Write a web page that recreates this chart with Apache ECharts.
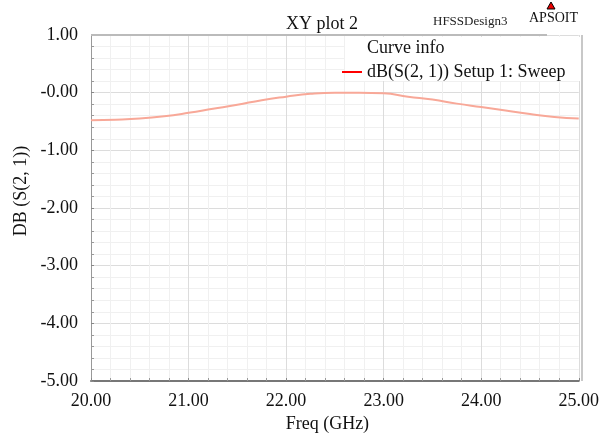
<!DOCTYPE html>
<html>
<head>
<meta charset="utf-8">
<script src="https://cdn.jsdelivr.net/npm/echarts@6/dist/echarts.min.js"></script>
<style>
  html, body { margin: 0; padding: 0; background: #fff; }
  #chart { width: 602px; height: 438px; }
</style>
</head>
<body>
<div id="chart"></div>
<script>
// 频率 (GHz) 和 dB(S(2,1))
const freq = [20.00, 20.25, 20.50, 20.75, 21.00, 21.25, 21.50, 21.75, 22.00, 22.25, 22.50,
              22.75, 23.00, 23.25, 23.50, 23.75, 24.00, 24.25, 24.50, 24.75, 25.00];
const s21 = [-0.48, -0.47, -0.45, -0.41, -0.35, -0.28, -0.21, -0.13, -0.07, -0.02, 0.00,
             0.00, -0.01, -0.07, -0.12, -0.19, -0.25, -0.31, -0.37, -0.42, -0.45];
const seriesName = 'dB(S(2, 1)) Setup 1: Sweep';

const serif = '"Liberation Serif", "DejaVu Serif", serif';

let chart = echarts.init(document.getElementById('chart'));
let option = {
  backgroundColor: '#fff',
  animation: false,
  title: {
    text: 'XY plot 2',
    left: 281,
    top: 10,
    textStyle: { fontFamily: serif, fontSize: 18, fontWeight: 'normal', color: '#111' }
  },
  graphic: [
    { type: 'text', left: 433, top: 15, style: { text: 'HFSSDesign3', font: '13px ' + serif, fill: '#222' } },
    { type: 'text', left: 529, top: 11, style: { text: 'APSOIT', font: '14px ' + serif, fill: '#111' } },
    { type: 'polygon', shape: { points: [[551, 2], [547, 9], [555, 9]] },
      style: { fill: '#e00', stroke: '#000', lineWidth: 1 } },
    // 纵轴名称
    { type: 'text', x: 21, y: 191, rotation: Math.PI / 2, z: 5,
      style: { text: 'DB (S(2, 1))', font: '18px ' + serif, fill: '#111', align: 'center', verticalAlign: 'middle' } },
    // 图框：右边、上边
    { type: 'rect', shape: { x: 581, y: 35, width: 2, height: 346 }, style: { fill: '#c8c8c8' }, z: 3 },
    { type: 'line', shape: { x1: 91, y1: 35, x2: 547, y2: 35 }, style: { stroke: '#bbb', lineWidth: 2 }, z: 3 },
    // 图例底色
    { type: 'rect', shape: { x: 345, y: 37, width: 235, height: 44 }, style: { fill: '#fff' }, z: 4 },
    { type: 'text', left: 367, top: 39, z: 5,
      style: { text: 'Curve info', font: '18px ' + serif, fill: '#111' } }
  ],
  legend: {
    data: [{ name: seriesName, itemStyle: { color: '#ff0000' }, lineStyle: { color: '#ff0000', width: 2 } }],
    left: 342,
    top: 63,
    z: 6,
    icon: 'rect',
    itemWidth: 20,
    itemHeight: 2,
    itemGap: 4,
    padding: [0, 4, 0, 0],
    textStyle: { fontFamily: serif, fontSize: 18, color: '#111', padding: [0, 0, 0, 0] }
  },
  grid: { left: 91, right: 19, top: 35, bottom: 57 },
  xAxis: {
    type: 'value',
    min: 20,
    max: 25,
    interval: 1,
    name: 'Freq (GHz)',
    nameLocation: 'middle',
    nameGap: 30,
    nameTextStyle: { fontFamily: serif, fontSize: 18, color: '#111', padding: [0, 15, 0, 0] },
    axisLine: { onZero: false, lineStyle: { color: '#777', width: 2 } },
    axisTick: { show: true, inside: true, length: 3, lineStyle: { color: '#888' } },
    minorTick: { show: true, splitNumber: 5, length: 3, lineStyle: { color: '#999' } },
    axisLabel: {
      fontFamily: serif, fontSize: 18, color: '#111', margin: 11,
      formatter: v => v.toFixed(2)
    },
    splitLine: { show: true, lineStyle: { color: '#dcdcdc', width: 1 } },
    minorSplitLine: { show: true, lineStyle: { color: '#f0f0f0', width: 1 } }
  },
  yAxis: {
    type: 'value',
    min: -5,
    max: 1,
    interval: 1,
    axisLine: { show: true, onZero: false, lineStyle: { color: '#999', width: 1 } },
    axisTick: { show: true, inside: true, length: 3, lineStyle: { color: '#888' } },
    minorTick: { show: true, splitNumber: 5, length: 3, lineStyle: { color: '#999' } },
    axisLabel: {
      fontFamily: serif, fontSize: 18, color: '#111', margin: 13,
      formatter: v => (v === 0 ? '-0.00' : v.toFixed(2))
    },
    splitLine: { show: true, lineStyle: { color: '#dcdcdc', width: 1 } },
    minorSplitLine: { show: true, lineStyle: { color: '#f0f0f0', width: 1 } }
  },
  series: [{
    name: seriesName,
    type: 'line',
    data: freq.map((f, i) => [f, s21[i]]),
    showSymbol: false,
    smooth: true,
    lineStyle: { color: '#f8a898', width: 2 },
    itemStyle: { color: '#f8a898' }
  }]
};
chart.setOption(option, true);
window.addEventListener('resize', () => {
  chart.resize();
});
</script>
</body>
</html>
